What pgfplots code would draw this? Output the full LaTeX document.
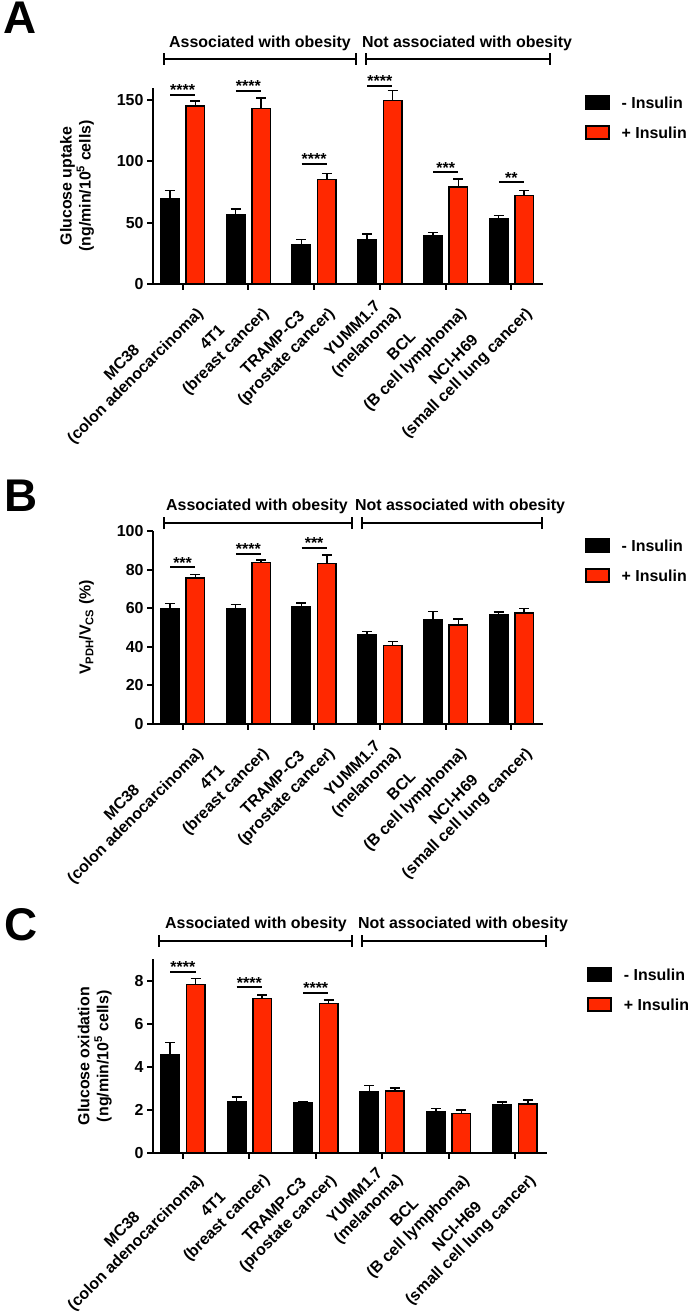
\documentclass[border=0pt]{standalone}
\usepackage{pgfplots}
\pgfplotsset{compat=1.18}
\usepackage{fontspec}
\setmainfont{Liberation Sans}
\definecolor{ired}{RGB}{255,40,0}
\newcommand\ff{\fontsize{16}{19}\selectfont\bfseries}
\newcommand\fs{\fontsize{16}{19}\selectfont\bfseries}
\newcommand\brk[3]{%
  \draw[line width=2.5bp] (#1,#3) -- (#2,#3);
  \draw[line width=2.5bp] (#1,#3-6) -- (#1,#3+6);
  \draw[line width=2.5bp] (#2,#3-6) -- (#2,#3+6);}
\newcommand\sig[3]{%
  \draw[line width=2bp] (axis cs:#1-0.19,#2) -- (axis cs:#1+0.19,#2);
  \node[font=\fs, anchor=base, inner sep=0pt, yshift=-1bp] at (axis cs:#1,#2) {#3};}
\pgfplotsset{
  panel/.style={
    scale only axis, width=390bp,
    axis lines=left, axis line style={-, line width=2bp},
    xmin=-0.45, xmax=5.48, ymin=0,
    enlargelimits=false, clip=false,
    ybar=7bp, bar width=18.5bp,
    xtick={0,...,5},
    xticklabels={{MC38\\(colon adenocarcinoma)},{4T1\\(breast cancer)},{TRAMP-C3\\(prostate cancer)},{YUMM1.7\\(melanoma)},{BCL\\(B cell lymphoma)},{NCI-H69\\(small cell lung cancer)}},
    xticklabel style={rotate=45, anchor=north east, align=center, font=\ff, inner sep=2bp},
    yticklabel style={font=\ff},
    /pgf/number format/assume math mode=true,
    tick style={line width=2bp, black}, major tick length=6bp, tick align=outside,
    ylabel style={font=\ff, align=center, yshift=16bp},
    legend style={draw=none, fill=none, inner sep=0pt, font=\ff, anchor=north west,
      row sep=15.5bp, nodes={inner sep=0pt, text depth=0pt},
      /tikz/every odd column/.append style={column sep=12bp}},
    legend cell align=left,
    error bars/y dir=plus, error bars/y explicit,
    error bars/error bar style={line width=1.5bp, black},
    error bars/error mark options={rotate=90, mark size=5bp, line width=1.5bp, black},
  },
  blk/.style={draw=black, line width=1.5bp, fill=black,
    legend image code/.code={\draw[draw=black, line width=1.5bp, fill=black] (0bp,-6.5bp) rectangle (23bp,6.5bp);}},
  rd/.style={draw=black, line width=1.5bp, fill=ired,
    legend image code/.code={\draw[draw=black, line width=1.5bp, fill=ired] (0bp,-6.5bp) rectangle (23bp,6.5bp);}},
}
\begin{document}
\begin{tikzpicture}[x=1bp,y=1bp]
\path[use as bounding box] (0,0) rectangle (691,1313);
% ---------------- Panel A ----------------
\node[anchor=north west, inner sep=0pt, font=\fontsize{46}{46}\selectfont\bfseries] at (3,1311) {A};
\brk{164}{356}{1254}
\brk{366}{550}{1254}
\node[font=\ff, anchor=base] at (260,1265) {Associated with obesity};
\node[font=\ff, anchor=base] at (467,1265) {Not associated with obesity};
\begin{axis}[panel, at={(153bp,1029bp)}, anchor=south west, height=196bp,
  ymax=160, ytick={0,50,100,150},
  ylabel={Glucose uptake\\(ng/min/10\textsuperscript{5} cells)},
  legend style={at={(1.1077,0.964)}}]
\addplot[blk] coordinates {(0,69.7) +- (0,6.5) (1,56.2) +- (0,5.2) (2,31.9) +- (0,4.6) (3,35.7) +- (0,5.1) (4,39.2) +- (0,2.7) (5,53.5) +- (0,2.5)};
\addplot[rd] coordinates {(0,145.4) +- (0,4.1) (1,143.2) +- (0,8.7) (2,85.1) +- (0,5.2) (3,149.7) +- (0,8.1) (4,79.2) +- (0,6.5) (5,72.4) +- (0,4.1)};
\addlegendentry{- Insulin}
\addlegendentry{+ Insulin}
\sig{0}{154.6}{****}
\sig{1}{157.6}{****}
\sig{2}{98}{****}
\sig{3}{162}{****}
\sig{4}{91.4}{***}
\sig{5}{83.2}{**}
\end{axis}
% ---------------- Panel B ----------------
\node[anchor=north west, inner sep=0pt, font=\fontsize{46}{46}\selectfont\bfseries] at (4,833) {B};
\brk{164}{352}{790}
\brk{362}{542}{790}
\node[font=\ff, anchor=base] at (257,802) {Associated with obesity};
\node[font=\ff, anchor=base] at (460,802) {Not associated with obesity};
\begin{axis}[panel, at={(153bp,589bp)}, anchor=south west, height=193bp,
  ymax=100, ytick={0,20,40,60,80,100},
  ylabel={V\textsubscript{PDH}/V\textsubscript{CS} (\%)},
  legend style={at={(1.1077,0.964)}}]
\addplot[blk] coordinates {(0,59.8) +- (0,2.7) (1,59.8) +- (0,2.2) (2,60.5) +- (0,2.2) (3,46.0) +- (0,1.8) (4,54.1) +- (0,4.1) (5,56.4) +- (0,1.5)};
\addplot[rd] coordinates {(0,75.6) +- (0,1.9) (1,83.7) +- (0,1.3) (2,83.2) +- (0,4.3) (3,40.7) +- (0,2.1) (4,51.2) +- (0,3.1) (5,57.4) +- (0,2.4)};
\addlegendentry{- Insulin}
\addlegendentry{+ Insulin}
\sig{0}{81.3}{***}
\sig{1}{88.1}{****}
\sig{2}{91.4}{***}
\end{axis}
% ---------------- Panel C ----------------
\node[anchor=north west, inner sep=0pt, font=\fontsize{46}{46}\selectfont\bfseries] at (4,405) {C};
\brk{159}{352}{372}
\brk{362}{546}{372}
\node[font=\ff, anchor=base] at (256,384.5) {Associated with obesity};
\node[font=\ff, anchor=base] at (463,384.5) {Not associated with obesity};
\begin{axis}[panel, at={(153bp,160bp)}, anchor=south west, height=193.5bp, width=394bp,
  ymax=9, ytick={0,2,4,6,8},
  xticklabel style={inner sep=0.5bp},
  ylabel={Glucose oxidation\\(ng/min/10\textsuperscript{5} cells)},
  legend style={at={(1.102,0.962)}}]
\addplot[blk] coordinates {(0,4.58) +- (0,0.55) (1,2.38) +- (0,0.23) (2,2.32) +- (0,0.06) (3,2.87) +- (0,0.28) (4,1.94) +- (0,0.14) (5,2.26) +- (0,0.11)};
\addplot[rd] coordinates {(0,7.83) +- (0,0.29) (1,7.19) +- (0,0.15) (2,6.95) +- (0,0.16) (3,2.89) +- (0,0.13) (4,1.83) +- (0,0.17) (5,2.27) +- (0,0.19)};
\addlegendentry{- Insulin}
\addlegendentry{+ Insulin}
\sig{0}{8.43}{****}
\sig{1}{7.71}{****}
\sig{2}{7.45}{****}
\end{axis}
\end{tikzpicture}
\end{document}
